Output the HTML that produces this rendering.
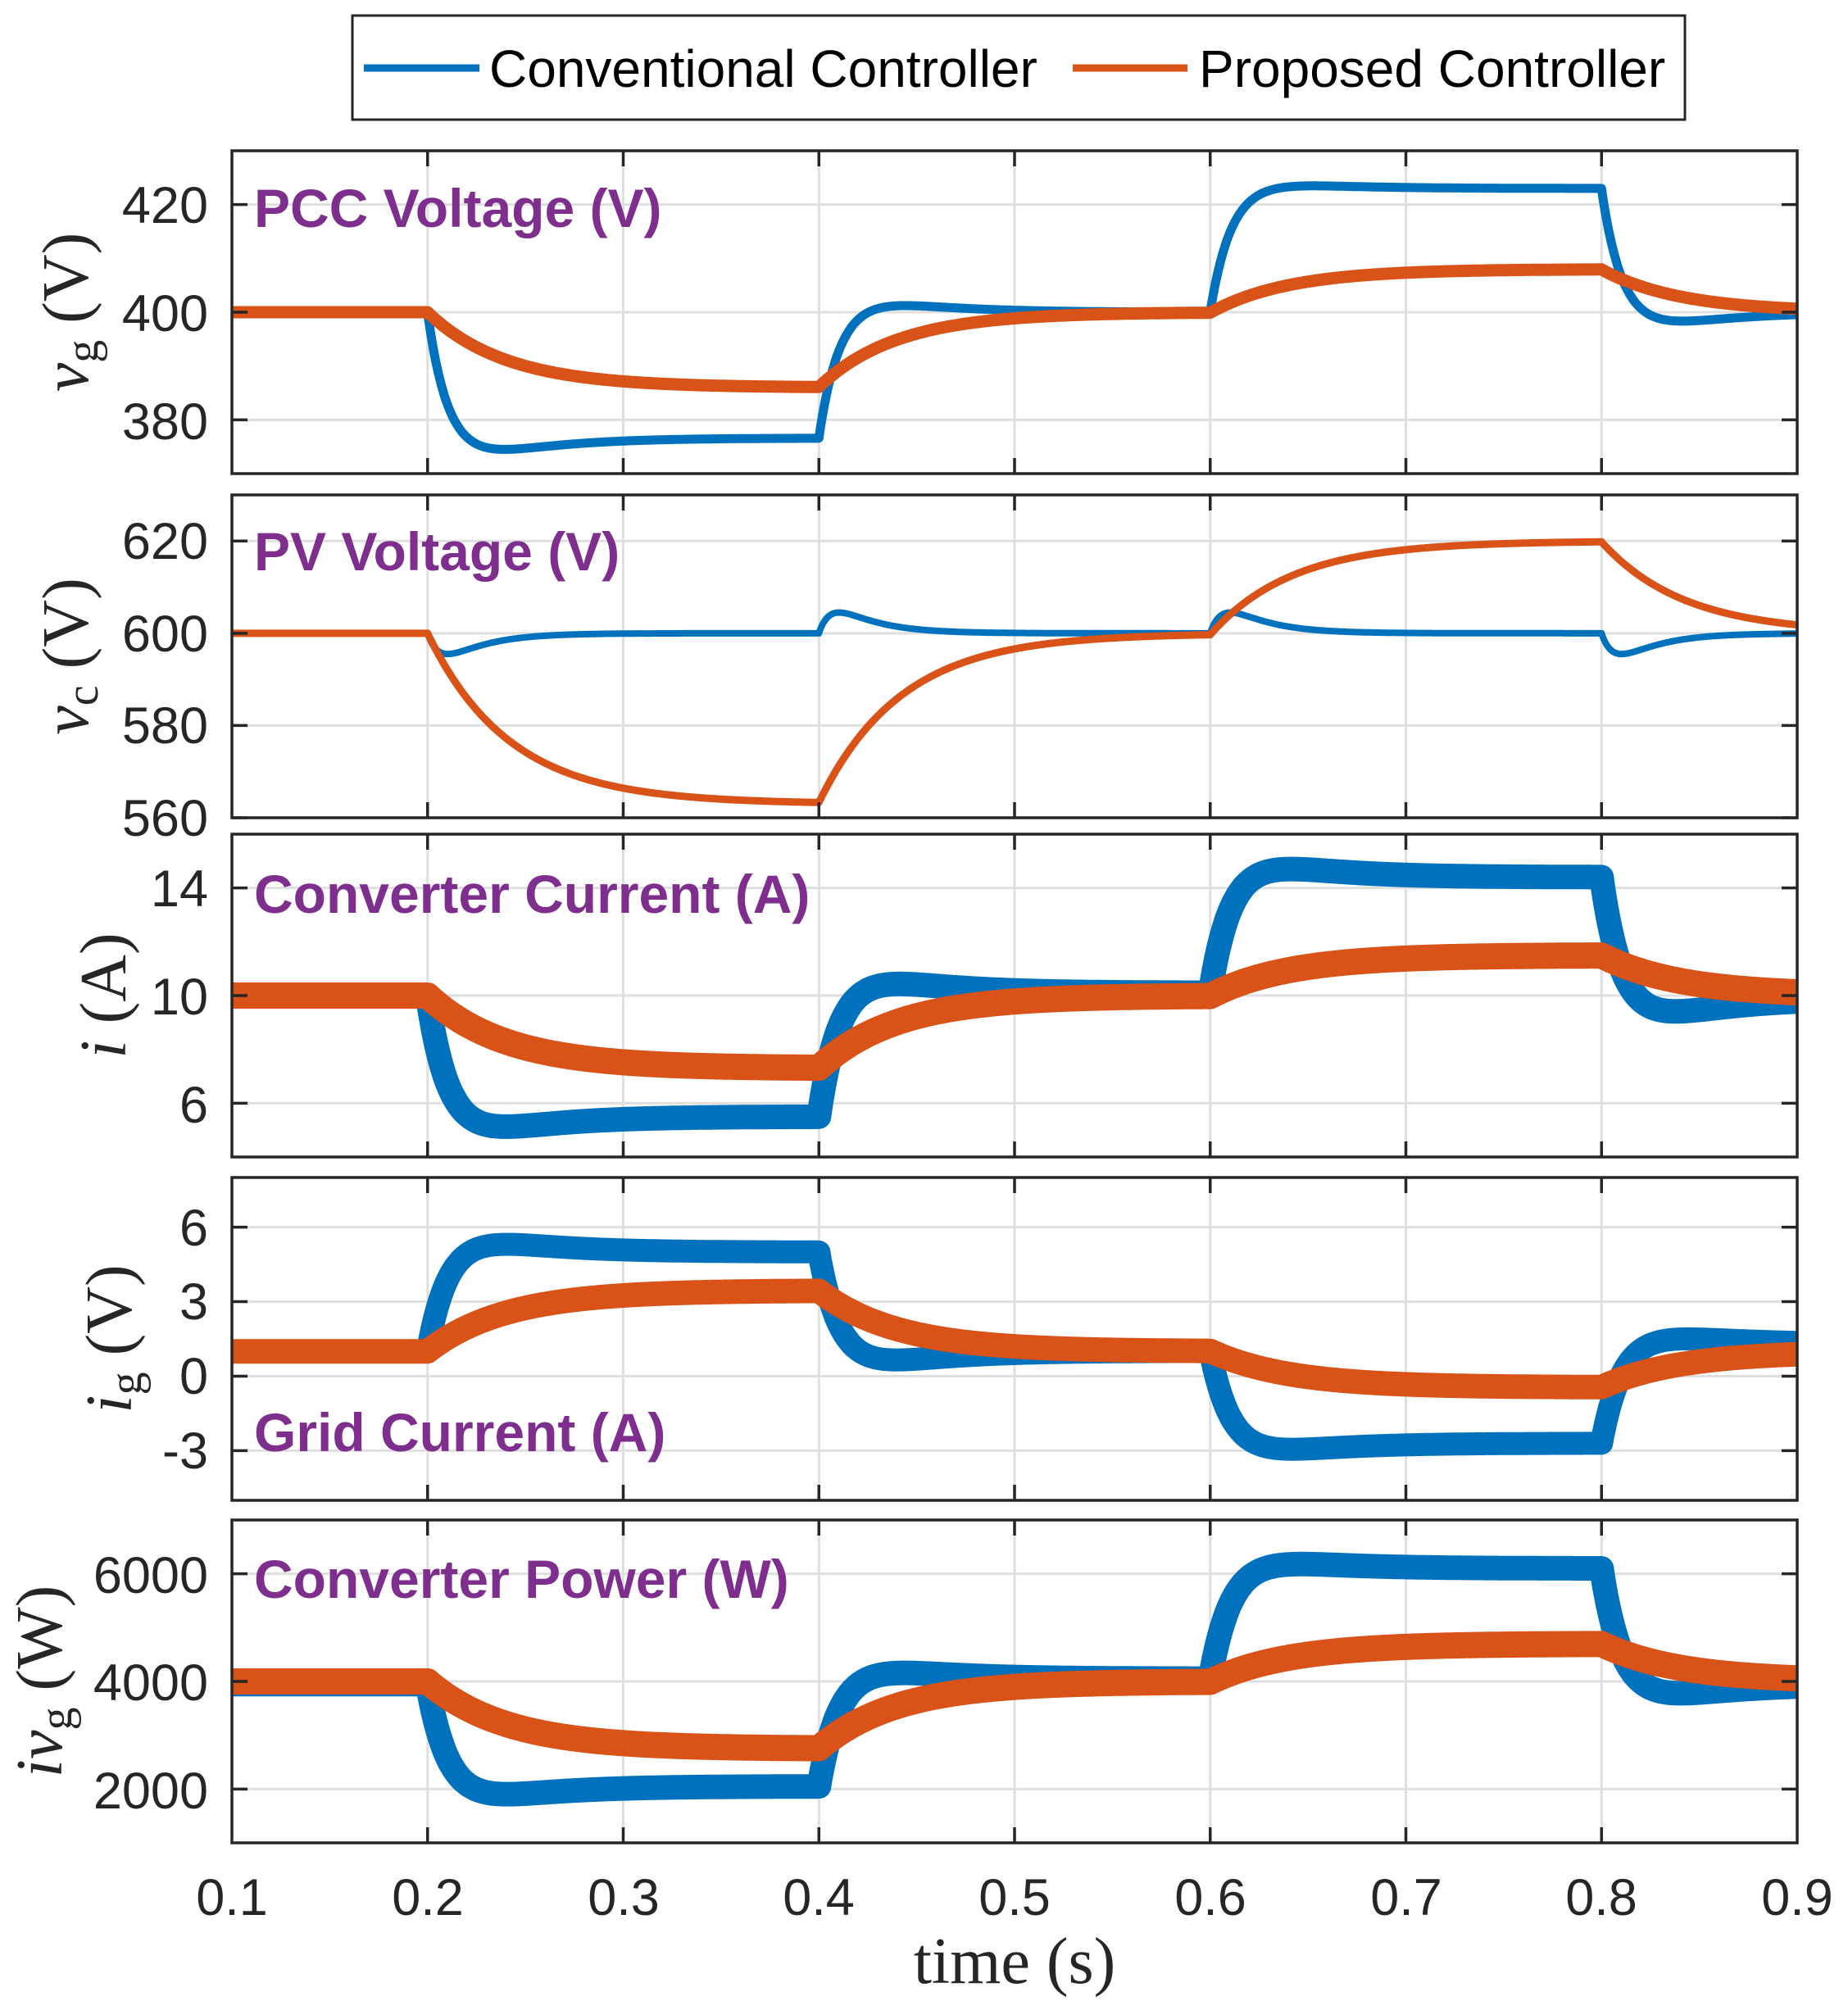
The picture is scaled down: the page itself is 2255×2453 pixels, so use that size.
<!DOCTYPE html>
<html><head><meta charset="utf-8"><style>
html,body{margin:0;padding:0;background:#fff}
svg{display:block}
.tk{font-family:"Liberation Sans",Arial,sans-serif;font-size:63px;fill:#262626}
.pl{font-family:"Liberation Sans",Arial,sans-serif;font-size:66px;font-weight:bold;fill:#7E2F8E}
.yl{font-family:"Liberation Serif","Times New Roman",serif;font-size:80px;fill:#262626}
.lg{font-family:"Liberation Sans",Arial,sans-serif;font-size:64px;fill:#000}
</style></head><body>
<svg id="s" xmlns="http://www.w3.org/2000/svg" width="2255" height="2453" viewBox="0 0 2255 2453">
<rect width="2255" height="2453" fill="#fff"/>
<g id="grid"></g>
<g id="data"></g>
<g id="axes"></g>
<rect x="430" y="19" width="1626" height="127" fill="#fff" stroke="#262626" stroke-width="3"/>
<line x1="444" y1="83" x2="585" y2="83" stroke="#0072BD" stroke-width="9"/>
<text class="lg" x="597" y="106">Conventional Controller</text>
<line x1="1309" y1="83" x2="1449" y2="83" stroke="#D95319" stroke-width="9"/>
<text class="lg" x="1463" y="106">Proposed Controller</text>
<text class="pl" x="310" y="277">PCC Voltage (V)</text>
<text class="pl" x="310" y="696">PV Voltage (V)</text>
<text class="pl" x="310" y="1114">Converter Current (A)</text>
<text class="pl" x="310" y="1771">Grid Current (A)</text>
<text class="pl" x="310" y="1950">Converter Power (W)</text>
<text class="yl" text-anchor="middle" transform="translate(107,381) rotate(-90)"><tspan font-style="italic">v</tspan><tspan font-size="56" dy="12">g</tspan><tspan dy="-12"> (V)</tspan></text>
<text class="yl" text-anchor="middle" transform="translate(107,801) rotate(-90)"><tspan font-style="italic">v</tspan><tspan font-size="56" dy="12">c</tspan><tspan dy="-12"> (V)</tspan></text>
<text class="yl" text-anchor="middle" transform="translate(153,1215) rotate(-90)"><tspan font-style="italic">i</tspan> (A)</text>
<text class="yl" text-anchor="middle" transform="translate(160,1634) rotate(-90)"><tspan font-style="italic">i</tspan><tspan font-size="56" dy="12">g</tspan><tspan dy="-12"> (V)</tspan></text>
<text class="yl" text-anchor="middle" transform="translate(75,2052) rotate(-90)"><tspan font-style="italic">iv</tspan><tspan font-size="56" dy="12">g</tspan><tspan dy="-12"> (W)</tspan></text>
<g class="tk" text-anchor="middle">
<text x="283" y="2337">0.1</text><text x="522" y="2337">0.2</text><text x="761" y="2337">0.3</text>
<text x="999" y="2337">0.4</text><text x="1238" y="2337">0.5</text><text x="1477" y="2337">0.6</text>
<text x="1716" y="2337">0.7</text><text x="1954" y="2337">0.8</text><text x="2193" y="2337">0.9</text>
</g>
<text class="yl" text-anchor="middle" x="1238" y="2420">time (s)</text>
<g class="tk" text-anchor="end">
<text x="254" y="536">380</text><text x="254" y="404">400</text><text x="254" y="272">420</text>
<text x="254" y="1020">560</text><text x="254" y="907">580</text><text x="254" y="795">600</text><text x="254" y="682">620</text>
<text x="254" y="1370">6</text><text x="254" y="1238">10</text><text x="254" y="1106">14</text>
<text x="254" y="1792">-3</text><text x="254" y="1701">0</text><text x="254" y="1610">3</text><text x="254" y="1520">6</text>
<text x="254" y="2207">2000</text><text x="254" y="2075">4000</text><text x="254" y="1944">6000</text>
</g>
</svg>
<script>
(function(){
var NS="http://www.w3.org/2000/svg";
var X0=283,X1=2193,H=394;
function xm(t){return X0+(t-0.1)/0.8*(X1-X0);}
var P=[
 {top:184,min:370,max:430,ticks:[380,400,420]},
 {top:604,min:560,max:630,ticks:[560,580,600,620]},
 {top:1018,min:4,max:16,ticks:[6,10,14]},
 {top:1437,min:-5,max:8,ticks:[-3,0,3,6]},
 {top:1855,min:1000,max:7000,ticks:[2000,4000,6000]}
];
function ym(p,v){return p.top+(p.max-v)/(p.max-p.min)*H;}
var ev=[0.2,0.4,0.6,0.8];
function el(g,tag,at){var e=document.createElementNS(NS,tag);for(var k in at)e.setAttribute(k,at[k]);document.getElementById(g).appendChild(e);return e;}
function conv(levels,os){
  function f(t){
    var k=0;while(k<4&&t>=ev[k])k++;
    if(k==0)return levels[0];
    var ts=ev[k-1],v0=levels[k-1],v1=levels[k],tau=t-ts;
    var dir=v1>v0?1:-1;
    return v1+(v0-v1)*Math.exp(-tau/0.011)+os[k-1]*dir*(Math.exp(-tau/0.035)-Math.exp(-tau/0.012))/0.376;
  }
  return f;
}
function prop(levels,tau0){
  function f(t){
    var k=0;while(k<4&&t>=ev[k])k++;
    if(k==0)return levels[0];
    var ts=ev[k-1],v0=f(ts-1e-9),v1=levels[k];
    return v1+(v0-v1)*Math.exp(-(t-ts)/tau0);
  }
  return f;
}
function pulses(base,amps){
  return function(t){var v=base;for(var k=0;k<4;k++){var tau=t-ev[k];if(tau>0)v+=amps[k]*(Math.exp(-tau/0.02)-Math.exp(-tau/0.006))/0.418;}return v;};
}
var S=[
 [conv([400,376.6,400,423,400],[3.6,2.4,1.2,3.0]),11, prop([400,386,400,408,400],0.04),15],
 [pulses(600,[-4.5,4.5,4.5,-4.5]),8, prop([600,563,600,620,600],0.042),9],
 [conv([10,5.5,10.1,14.4,9.9],[0.65,0.6,0.55,0.8]),30, prop([10,7.3,10,11.5,10],0.04),32],
 [conv([1,5.0,1.0,-2.7,1.3],[0.55,0.6,0.45,0.4]),28, prop([1,3.45,1.0,-0.45,1.0],0.04),30],
 [conv([3950,2050,4050,6100,3950],[260,210,170,300]),30, prop([4000,2750,4000,4700,4000],0.04),32]
];
P.forEach(function(p,i){
  var bot=p.top+H;
  for(var t=0.2;t<0.85;t+=0.1){var x=xm(t);el("grid","line",{x1:x,y1:p.top,x2:x,y2:bot,stroke:"#DFDFDF","stroke-width":3});}
  p.ticks.forEach(function(v){var y=ym(p,v);el("grid","line",{x1:X0,y1:y,x2:X1,y2:y,stroke:"#DFDFDF","stroke-width":3});});
  var s=S[i];
  [[s[0],s[1],"#0072BD"],[s[2],s[3],"#D95319"]].forEach(function(c){
    var d="";for(var n=0;n<=1600;n++){var t=0.1+n*0.0005;d+=(n?"L":"M")+xm(t).toFixed(1)+","+ym(p,c[0](t)).toFixed(1);}
    el("data","path",{d:d,fill:"none",stroke:c[2],"stroke-width":c[1],"stroke-linejoin":"round"});
  });
  el("axes","rect",{x:X0,y:p.top,width:X1-X0,height:H,fill:"none",stroke:"#262626","stroke-width":3.5});
  for(var t=0.2;t<0.85;t+=0.1){var x=xm(t);
    el("axes","line",{x1:x,y1:p.top,x2:x,y2:p.top+19,stroke:"#262626","stroke-width":3.5});
    el("axes","line",{x1:x,y1:bot,x2:x,y2:bot-19,stroke:"#262626","stroke-width":3.5});}
  p.ticks.forEach(function(v){var y=ym(p,v);
    el("axes","line",{x1:X0,y1:y,x2:X0+19,y2:y,stroke:"#262626","stroke-width":3.5});
    el("axes","line",{x1:X1,y1:y,x2:X1-19,y2:y,stroke:"#262626","stroke-width":3.5});});
});
})();
</script>
</body></html>
